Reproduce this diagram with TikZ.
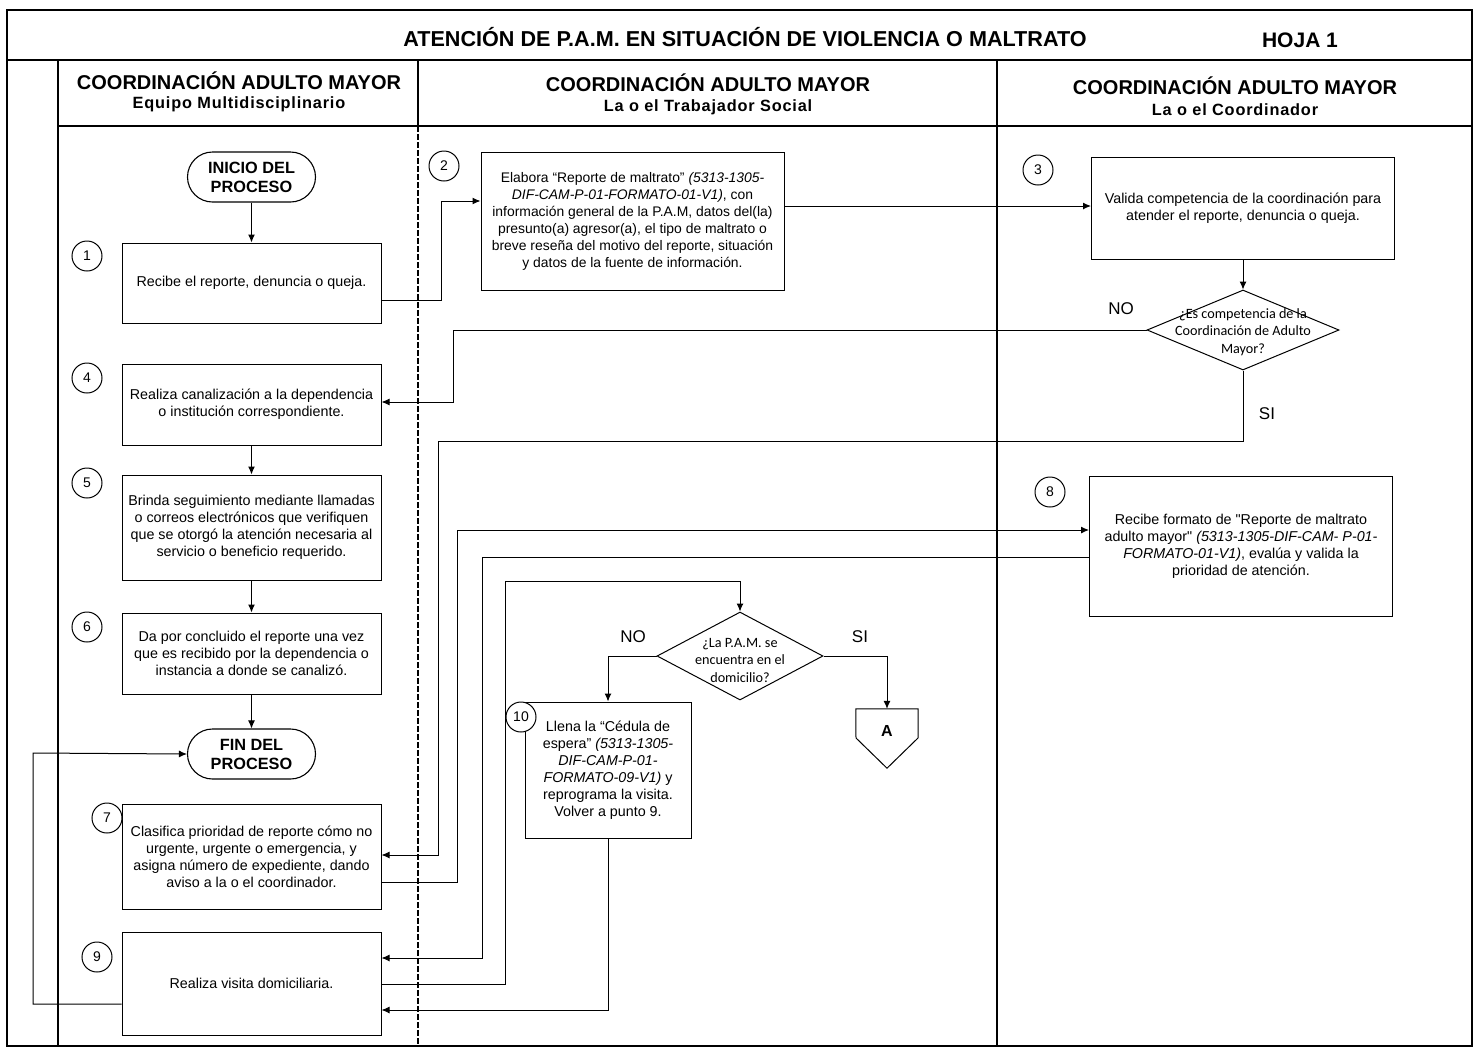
\documentclass[tikz,border=0pt]{standalone}
\usepackage{fontspec}
\setmainfont{Liberation Sans}
\newfontfamily\carlito{Carlito}
\newfontfamily\subhfont[LetterSpace=5]{Liberation Sans Bold}
\newfontfamily\plainq[Ligatures=TeXOff]{Liberation Sans}
\newcommand\stq{{\plainq"}}
\usetikzlibrary{arrows.meta,shapes.geometric,calc}
\begin{document}
\begin{tikzpicture}[x=1pt,y=-1pt,
  frame/.style={line width=1.2pt},
  box/.style={draw, line width=1pt, inner sep=0pt, align=center, font=\fontsize{14.3}{17}\selectfont},
  num/.style={draw, circle, line width=1pt, minimum size=30pt, inner sep=0pt, fill=white, font=\fontsize{14}{16}\selectfont},
  term/.style={draw, line width=1.1pt, rounded corners=25pt, minimum width=128pt, minimum height=50pt, inner sep=0pt, align=center, font=\bfseries\fontsize{16.3}{19}\selectfont},
  dec/.style={draw, diamond, line width=1pt, inner sep=0pt},
  dtext/.style={align=center, inner sep=0pt, font=\carlito\fontsize{14.2}{17.5}\selectfont},
  hdr/.style={font=\bfseries\fontsize{20}{23}\selectfont, inner sep=0pt},
  hdrs/.style={font=\subhfont\fontsize{16.3}{18}\selectfont, inner sep=0pt},
  lbl/.style={font=\fontsize{17}{19}\selectfont, inner sep=0pt},
  arr/.style={-{Latex[length=8pt,width=7pt]}, line width=1pt}
]
\fill[white] (0,0) rectangle (1476,1053);
\useasboundingbox (0,0) rectangle (1476,1053);

% frame
\draw[frame] (7,10) rectangle (1472,1046);
\draw[frame] (7,60) -- (1472,60);
\draw[frame] (58,60) -- (58,1046);
\draw[frame] (58,126) -- (1472,126);
\draw[frame] (418,60) -- (418,126);
\draw[frame, dash pattern=on 6pt off 2pt] (418,126) -- (418,1046);
\draw[frame] (997,60) -- (997,1046);

% title
\node[font=\bfseries\fontsize{21.6}{24}\selectfont, inner sep=0pt] (title) at (745,37) {ATENCIÓN DE P.A.M. EN SITUACIÓN DE VIOLENCIA O MALTRATO};
\node[font=\bfseries\fontsize{21}{24}\selectfont, inner sep=0pt] (hoja) at (1300,40) {HOJA 1};

% headers
\node[hdr] (h1a) at (239,81) {COORDINACIÓN ADULTO MAYOR};
\node[hdrs] (h1b) at (239,104) {Equipo Multidisciplinario};
\node[hdr] (h2a) at (708,83) {COORDINACIÓN ADULTO MAYOR};
\node[hdrs] (h2b) at (708,107) {La o el Trabajador Social};
\node[hdr] (h3a) at (1235,86) {COORDINACIÓN ADULTO MAYOR};
\node[hdrs] (h3b) at (1235,110) {La o el Coordinador};

% lane 1
\node[term] (ini) at (251.5,177) {INICIO DEL\\PROCESO};
\node[box, minimum width=259pt, minimum height=80pt] (b1) at (251.5,283) {Recibe el reporte, denuncia o queja.};
\node[box, minimum width=259pt, minimum height=81pt] (b4) at (251.5,404.5) {Realiza canalización a la dependencia\\o institución correspondiente.};
\node[box, minimum width=259pt, minimum height=105pt] (b5) at (251.5,527.5) {Brinda seguimiento mediante llamadas\\o correos electrónicos que verifiquen\\que se otorgó la atención necesaria al\\servicio o beneficio requerido.};
\node[box, minimum width=259pt, minimum height=81pt] (b6) at (251.5,653.5) {Da por concluido el reporte una vez\\que es recibido por la dependencia o\\instancia a donde se canalizó.};
\node[term] (fin) at (251.5,754) {FIN DEL\\PROCESO};
\node[box, minimum width=259pt, minimum height=105pt] (b7) at (251.5,856.5) {Clasifica prioridad de reporte cómo no\\urgente, urgente o emergencia, y\\asigna número de expediente, dando\\aviso a la o el coordinador.};
\node[box, minimum width=259pt, minimum height=103pt] (b9) at (251.5,983.5) {Realiza visita domiciliaria.};

% lane 2
\node[box, minimum width=303pt, minimum height=138pt, font=\fontsize{13.9}{17}\selectfont] (b2) at (632.5,221) {Elabora “Reporte de maltrato” \textit{(5313-1305-}\\\textit{DIF-CAM-P-01-FORMATO-01-V1)}, con\\información general de la P.A.M, datos del(la)\\presunto(a) agresor(a), el tipo de maltrato o\\breve reseña del motivo del reporte, situación\\y datos de la fuente de información.};
\node[dec, minimum width=166pt, minimum height=88pt] (d2) at (740,656) {};
\node[dtext] (d2t) at (740,660) {¿La P.A.M. se\\encuentra en el\\domicilio?};
\node[box, minimum width=166pt, minimum height=136pt] (b10) at (608,770) {Llena la “Cédula de\\espera” \textit{(5313-1305-}\\\textit{DIF-CAM-P-01-}\\\textit{FORMATO-09-V1)} y\\reprograma la visita.\\Volver a punto 9.};
\node[minimum width=62pt, minimum height=59pt, inner sep=0pt] (A) at (887,738.5) {};
\draw[line width=1pt] (A.north west) -- (A.north east) -- (918,738) -- (A.south) -- (856,738) -- cycle;
\node[font=\bfseries\fontsize{16}{18}\selectfont, inner sep=0pt] (Atxt) at (887,731) {A};

% lane 3
\node[box, minimum width=303pt, minimum height=102pt] (b3) at (1243,208) {Valida competencia de la coordinación para\\atender el reporte, denuncia o queja.};
\node[dec, minimum width=192pt, minimum height=80pt] (d1) at (1243,330) {};
\node[dtext] (d1t) at (1243,332) {¿Es competencia de la\\Coordinación de Adulto\\Mayor?};
\node[box, minimum width=303pt, minimum height=140pt] (b8) at (1241,546) {Recibe formato de \stq Reporte de maltrato\\adulto mayor\stq\ \textit{(5313-1305-DIF-CAM- P-01-}\\\textit{FORMATO-01-V1)}, evalúa y valida la\\prioridad de atención.};

% number circles
\node[num] (n1) at (87,256) {1};
\node[num] (n2) at (444,166) {2};
\node[num] (n3) at (1038,170) {3};
\node[num] (n4) at (87,378) {4};
\node[num] (n5) at (87,483) {5};
\node[num] (n6) at (87,627) {6};
\node[num] (n7) at (107,818) {7};
\node[num] (n8) at (1050,492) {8};
\node[num] (n9) at (97,957) {9};
\node[num] (n10) at (521,717) {10};

% labels
\node[lbl] (no1) at (1121,309) {NO};
\node[lbl] (si1) at (1267,414) {SI};
\node[lbl] (no2) at (633,637) {NO};
\node[lbl] (si2) at (860,637) {SI};

% connectors
\draw[arr] (ini) -- (b1);
\draw[arr] (b1.east |- 0,300) -- (441,300) -- (441,201) -- (b2.west |- 0,201);
\draw[arr] (b2.east |- 0,206) -- (b3.west |- 0,206);
\draw[arr] (b3) -- (d1);
\draw[arr] (d1.west) -- (453,330) -- (453,402) -- (b4.east |- 0,402);
\draw[arr] (d1.south) -- (1243,441) -- (438,441) -- (438,855) -- (b7.east |- 0,855);
\draw[arr] (b7.east |- 0,882) -- (457,882) -- (457,530) -- (b8.west |- 0,530);
\draw[arr] (b8.west |- 0,557) -- (482,557) -- (482,958) -- (b9.east |- 0,958);
\draw[arr] (b9.east |- 0,984) -- (505,984) -- (505,581) -- (740,581) -- (d2.north);
\draw[arr] (d2.west) -- (608,656) -- (b10.north);
\draw[arr] (d2.east) -- (887,656) -- (A.north);
\draw[arr] (b10.south) -- (608,1010) -- (b9.east |- 0,1010);
\draw[arr] (b9.west |- 0,1004) -- (33,1004) -- (33,753) -- (fin.west);
\draw[arr] (b4) -- (b5);
\draw[arr] (b5) -- (b6);
\draw[arr] (b6) -- (fin);
\end{tikzpicture}
\end{document}
